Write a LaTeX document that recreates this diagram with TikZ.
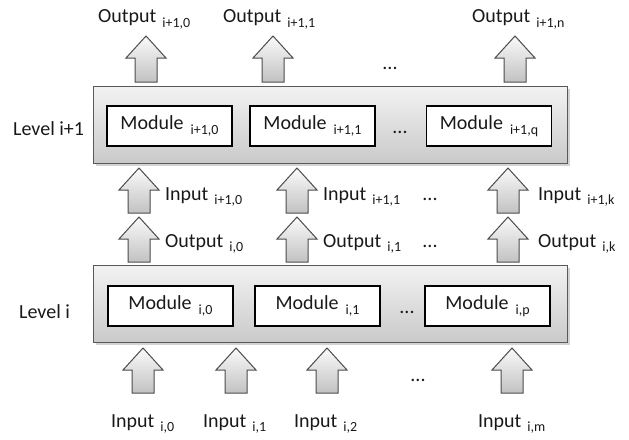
\documentclass[tikz,border=0pt]{standalone}
\usepackage{fontspec}
\setmainfont{Carlito}
\usetikzlibrary{shadows}
% subscript-like index set lower and smaller than the label
\newcommand\sbs[1]{\raisebox{-4.5pt}{\fontsize{14}{14}\selectfont #1}}
% block arrow pointing up: name, centre x, tip y, foot y
\newcommand\blkarrow[4]{%
  \shade[arrowfill] (#2-11,#4) -- (#2-11,#3+22) -- (#2-20,#3+22) -- (#2,#3)
    -- (#2+20,#3+22) -- (#2+11,#3+22) -- (#2+11,#4) -- cycle;
  \coordinate (#1) at (#2,#3);}
\begin{document}
\begin{tikzpicture}[x=1pt,y=-1pt,
  every node/.style={font=\fontsize{20}{24}\selectfont, text=black!90, inner sep=0pt},
  arrowfill/.style={top color=gray!4, bottom color=gray!48, draw=black!70, line width=1pt, line join=miter},
  levelbox/.style={draw=black!65, line width=1.1pt, top color=gray!10, bottom color=gray!42,
    minimum width=474pt, minimum height=77pt, anchor=north west,
    drop shadow={shadow xshift=2pt, shadow yshift=-2pt, opacity=0.35, fill=gray}},
  modbox/.style={draw=black, line width=1.6pt, fill=white, minimum width=125pt, minimum height=40pt},
  lbl/.style={anchor=base west},
  dots/.style={anchor=base}]
\useasboundingbox (0,0) rectangle (629,439);

% levels
\node[levelbox] (L1) at (93,86) {};
\node[levelbox] (L0) at (93,265) {};

\node[lbl] (lv1) at (13,135) {Level i+1};
\node[lbl] (lv0) at (19,318) {Level i};

% modules of level i+1
\node[modbox] (m10) at (169.5,126) {Module\hspace{7pt}\sbs{i+1,0}};
\node[modbox] (m11) at (312.5,126) {Module\hspace{7pt}\sbs{i+1,1}};
\node[dots] (md1) at (400,133) {...};
\node[modbox] (m1q) at (489,126) {Module\hspace{7pt}\sbs{i+1,q}};

% modules of level i
\node[modbox] (m00) at (170.5,306) {Module\hspace{7pt}\sbs{i,0}};
\node[modbox] (m01) at (317.5,306) {Module\hspace{7pt}\sbs{i,1}};
\node[dots] (md0) at (407,313) {...};
\node[modbox] (m0p) at (487.5,306) {Module\hspace{7pt}\sbs{i,p}};

% outputs of level i+1
\blkarrow{ta0}{146}{36}{82}
\blkarrow{ta1}{273}{36}{82}
\blkarrow{ta2}{515}{36}{82}
\node[lbl] (to0) at (98,23) {Output\hspace{6pt}\sbs{i+1,0}};
\node[lbl] (to1) at (223,23) {Output\hspace{6pt}\sbs{i+1,1}};
\node[lbl] (to2) at (472,23) {Output\hspace{6pt}\sbs{i+1,n}};
\node[dots] (td) at (390,69) {...};

% inputs of level i+1 = outputs of level i
\blkarrow{ia0}{139}{168}{213}
\blkarrow{ia1}{297}{168}{213}
\blkarrow{ia2}{508}{168}{213}
\blkarrow{oa0}{139}{217}{262}
\blkarrow{oa1}{297}{217}{262}
\blkarrow{oa2}{508}{217}{262}
\node[lbl] (il0) at (165,200) {Input\hspace{6pt}\sbs{i+1,0}};
\node[lbl] (il1) at (323,200) {Input\hspace{6pt}\sbs{i+1,1}};
\node[dots] (ild) at (430,200) {...};
\node[lbl] (il2) at (538,200) {Input\hspace{6pt}\sbs{i+1,k}};
\node[lbl] (ol0) at (165,247) {Output\hspace{6pt}\sbs{i,0}};
\node[lbl] (ol1) at (323,247) {Output\hspace{6pt}\sbs{i,1}};
\node[dots] (old) at (430,247) {...};
\node[lbl] (ol2) at (538,247) {Output\hspace{6pt}\sbs{i,k}};

% inputs of level i
\blkarrow{ba0}{143}{348}{393}
\blkarrow{ba1}{236}{348}{393}
\blkarrow{ba2}{327}{348}{393}
\blkarrow{ba3}{512}{348}{393}
\node[dots] (bd) at (418,381) {...};
\node[lbl] (bi0) at (111,427) {Input\hspace{6pt}\sbs{i,0}};
\node[lbl] (bi1) at (203,427) {Input\hspace{6pt}\sbs{i,1}};
\node[lbl] (bi2) at (294,427) {Input\hspace{6pt}\sbs{i,2}};
\node[lbl] (bi3) at (478,427) {Input\hspace{6pt}\sbs{i,m}};
\end{tikzpicture}
\end{document}
